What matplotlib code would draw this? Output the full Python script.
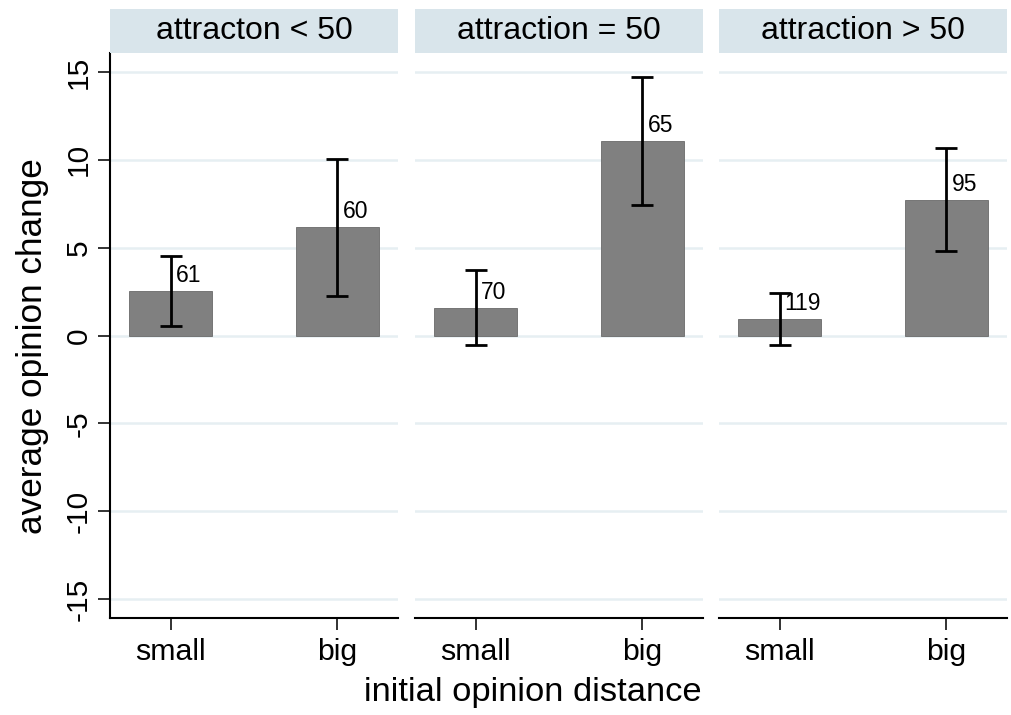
import matplotlib
matplotlib.use("Agg")
import matplotlib.pyplot as plt
from matplotlib.patches import Rectangle

plt.rcParams['font.family'] = ['Liberation Sans', 'DejaVu Sans']

panels = ["attracton < 50", "attraction = 50", "attraction > 50"]
categories = ["small", "big"]
means = [[2.53, 6.16], [1.57, 11.09], [0.94, 7.69]]
ci_low = [[0.54, 2.27], [-0.56, 7.44], [-0.56, 4.79]]
ci_high = [[4.52, 10.06], [3.71, 14.73], [2.40, 10.65]]
counts = [[61, 60], [70, 65], [119, 95]]
yticks = [-15, -10, -5, 0, 5, 10, 15]

W, H = 1011, 715
fig = plt.figure(figsize=(W / 100, H / 100), dpi=100)

panel_lefts = [110, 415, 719]
panel_w = 288
ax_top, ax_bot = 53, 618
strip_top = 9

for i, name in enumerate(panels):
    l = panel_lefts[i]
    ax = fig.add_axes([l / W, 1 - ax_bot / H, panel_w / W, (ax_bot - ax_top) / H])
    ax.set_xlim(-0.363, 1.363)
    ax.set_ylim(-16.08, 16.08)
    for yt in yticks:
        ax.axhline(yt, color="#e6eff2", lw=1.8, zorder=0)
    x = list(range(len(categories)))
    ax.bar(x, means[i], width=0.5, color="#808080", edgecolor="#6a6a6a",
           linewidth=0.6, zorder=2)
    lo = [m - c for m, c in zip(means[i], ci_low[i])]
    hi = [c - m for m, c in zip(means[i], ci_high[i])]
    ax.errorbar(x, means[i], yerr=[lo, hi], fmt="none", ecolor="black",
                elinewidth=2.0, capsize=8, capthick=2.0, zorder=3)
    for xi, m, n in zip(x, means[i], counts[i]):
        ax.annotate(str(n), (xi, m), xytext=(5, 9), textcoords="offset pixels",
                    ha="left", va="baseline", fontsize=16.5, color="black", zorder=4)
    ax.set_xticks(x)
    ax.set_xticklabels(categories, fontsize=21.8)
    ax.tick_params(axis="x", length=8.5, width=1.3, pad=6, color="#222222")
    for s in ["top", "right"]:
        ax.spines[s].set_visible(False)
    ax.spines["bottom"].set_linewidth(1.5)
    if i == 0:
        ax.set_yticks(yticks)
        ax.set_yticklabels([str(t) for t in yticks], fontsize=21.5, rotation=90,
                           va="center")
        ax.tick_params(axis="y", length=8.5, width=1.3, pad=4, color="#222222")
        ax.spines["left"].set_linewidth(1.5)
    else:
        ax.spines["left"].set_visible(False)
        ax.set_yticks([])
    # strip
    fig.patches.append(Rectangle((l / W, 1 - ax_top / H), panel_w / W,
                                 (ax_top - strip_top) / H, transform=fig.transFigure,
                                 facecolor="#d9e5eb", edgecolor="none"))
    fig.text((l + panel_w / 2) / W, 1 - 31 / H, name, ha="center", va="center",
             fontsize=23)

fig.text(33 / W, 1 - 346 / H, "average opinion change", rotation=90,
         ha="center", va="center", fontsize=25.3)
fig.text(533 / W, 1 - 692 / H, "initial opinion distance", ha="center",
         va="center", fontsize=24.8)

fig.savefig("out.png", dpi=100, facecolor="white")
